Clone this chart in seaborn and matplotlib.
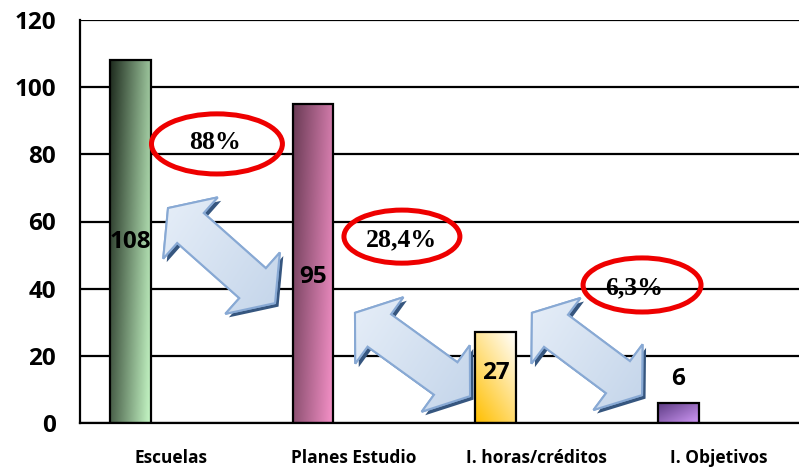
import numpy as np
import matplotlib
matplotlib.use("Agg")
import matplotlib.pyplot as plt
import seaborn as sns
from matplotlib.colors import LinearSegmentedColormap
from matplotlib.patches import Ellipse, Polygon

# data
categories = ["Escuelas", "Planes Estudio", "I. horas/créditos", "I. Objetivos"]
values = [108, 95, 27, 6]
value_label_y = [54, 43.5, 15, 13]
y_ticks = [0, 20, 40, 60, 80, 100, 120]

percent_labels = ["88%", "28,4%", "6,3%"]
percent_text_xy = [(0.24, 83.6), (1.26, 54.4), (2.535, 40.4)]
ellipse_xywh = [(0.25, 83.1, 0.717, 17.9), (1.263, 55.5, 0.635, 15.8), (2.578, 41.1, 0.646, 16.1)]
arrow_tips = [((-0.018, 64.0), (0.568, 35.7)),
              ((1.006, 32.8), (1.636, 8.0)),
              ((1.975, 32.8), (2.578, 8.3))]

# bar gradients: (dark/start colour, light/end colour, weight on x, weight on "down")
bar_grad = [("#1f2c1f", "#c6f8c6", 0.85, 0.3),
            ("#6a3b55", "#f792c9", 0.85, 0.3),
            ("#ffbf00", "#ffffff", 0.5, -0.7),
            ("#5b3a82", "#cf98f5", 0.55, 0.55)]

bar_width = 0.2245
bar_shift = -0.224

sns.set_style("white")
plt.rcParams["font.family"] = ["Open Sans", "DejaVu Sans"]

fig = plt.figure(figsize=(7.99, 4.68), dpi=100)
ax = fig.add_axes([80 / 799, 45 / 468, 719 / 799, 403 / 468])

df = {"cat": categories, "val": values}
sns.barplot(x="cat", y="val", data=df, width=bar_width, color="white",
            edgecolor="black", linewidth=1.6, ax=ax)

xmax = -0.5 + 719 / 182.6
ax.set_xlim(-0.5, xmax)
ax.set_ylim(0, 120)

ny, nx = 120, 40
fx = np.linspace(0, 1, nx)[None, :]
fy = np.linspace(0, 1, ny)[:, None]
for patch, (c0, c1, wx, wd) in zip(ax.patches, bar_grad):
    patch.set_x(patch.get_x() + bar_shift)
    x0, y0 = patch.get_x(), patch.get_y()
    x1, y1 = x0 + patch.get_width(), y0 + patch.get_height()
    if wd >= 0:
        t = wx * fx + wd * (1 - fy)
    else:
        t = wx * fx + (-wd) * fy
    t = np.clip(t / max(t.max(), 1e-9), 0, 1)
    cmap = LinearSegmentedColormap.from_list("g", [c0, c1])
    im = ax.imshow(t, cmap=cmap, origin="lower", extent=(x0, x1, y0, y1),
                   aspect="auto", interpolation="bicubic", zorder=2)
    im.set_clip_path(patch)
    patch.set_facecolor("none")
    patch.set_zorder(3)

ax.set_xlim(-0.5, xmax)
ax.set_ylim(0, 120)

# value labels
for i, (v, ly) in enumerate(zip(values, value_label_y)):
    ax.text(i + bar_shift, ly, str(v), ha="center", va="center",
            fontsize=17.5, fontweight="bold", color="black", zorder=6)

# grid / axes styling
ax.set_yticks(y_ticks)
ax.yaxis.grid(True, color="black", linewidth=1.6)
ax.xaxis.grid(False)
ax.set_axisbelow(True)
for side in ["top", "right"]:
    ax.spines[side].set_visible(False)
for side in ["left", "bottom"]:
    ax.spines[side].set_color("black")
    ax.spines[side].set_linewidth(1.6)

ax.set_xlabel("")
ax.set_ylabel("")
ax.set_xticks(range(len(categories)))
ax.set_xticklabels(categories)
ax.set_xticks([-0.5, 0.5, 1.5, 2.5], minor=True)
ax.tick_params(axis="x", which="major", length=0, pad=18.5, labelsize=12.5)
ax.tick_params(axis="x", which="minor", length=6, width=1.5, direction="out", color="black")
ax.tick_params(axis="y", which="major", length=7.2, width=1.5, direction="out",
               color="black", pad=10, labelsize=17.5)
for lab in ax.get_xticklabels() + ax.get_yticklabels():
    lab.set_fontweight("bold")
    lab.set_color("black")

# red ellipses with percentages
for (ex, ey, ew, eh) in ellipse_xywh:
    ax.add_patch(Ellipse((ex, ey), ew, eh, fill=False, edgecolor="#ee0000",
                         linewidth=3.6, zorder=5))
for txt, (tx, ty) in zip(percent_labels, percent_text_xy):
    ax.text(tx, ty, txt, ha="center", va="center", fontsize=18.5, fontweight="bold",
            family=["Liberation Serif", "DejaVu Serif"], color="black", zorder=6)


# blue double block arrows, built in pixel space then mapped back to data
def double_arrow(p0, p1, shaft=40, head=82, head_len=30):
    a = ax.transData.transform(p0)
    b = ax.transData.transform(p1)
    u = (b - a) / np.hypot(*(b - a))
    n = np.array([-u[1], u[0]])
    pts = [a,
           a + u * head_len + n * head / 2,
           a + u * head_len + n * shaft / 2,
           b - u * head_len + n * shaft / 2,
           b - u * head_len + n * head / 2,
           b,
           b - u * head_len - n * head / 2,
           b - u * head_len - n * shaft / 2,
           a + u * head_len - n * shaft / 2,
           a + u * head_len - n * head / 2]
    return np.array(pts)


inv = ax.transData.inverted()
for p0, p1 in arrow_tips:
    pts = double_arrow(p0, p1)
    shadow = inv.transform(pts + np.array([3.5, -3.5]))
    ax.add_patch(Polygon(shadow, closed=True, facecolor="#36567f",
                         edgecolor="none", zorder=4))
    body = inv.transform(pts)
    poly = Polygon(body, closed=True, facecolor="#d3e0f0", edgecolor="#88a9d4",
                   linewidth=1.5, zorder=4.5)
    ax.add_patch(poly)
    xs, ys = body[:, 0], body[:, 1]
    g = np.linspace(0, 1, 50)[None, :] * 0.6 + np.linspace(1, 0, 50)[:, None] * 0.4
    cm = LinearSegmentedColormap.from_list("ab", ["#e6eef8", "#c4d5ea"])
    im = ax.imshow(g, cmap=cm, origin="lower",
                   extent=(xs.min(), xs.max(), ys.min(), ys.max()),
                   aspect="auto", interpolation="bicubic", zorder=4.6)
    im.set_clip_path(poly)
    edge = Polygon(body, closed=True, facecolor="none", edgecolor="#88a9d4",
                   linewidth=1.5, zorder=4.7)
    ax.add_patch(edge)

ax.set_xlim(-0.5, xmax)
ax.set_ylim(0, 120)

fig.savefig("out.png", dpi=100)
